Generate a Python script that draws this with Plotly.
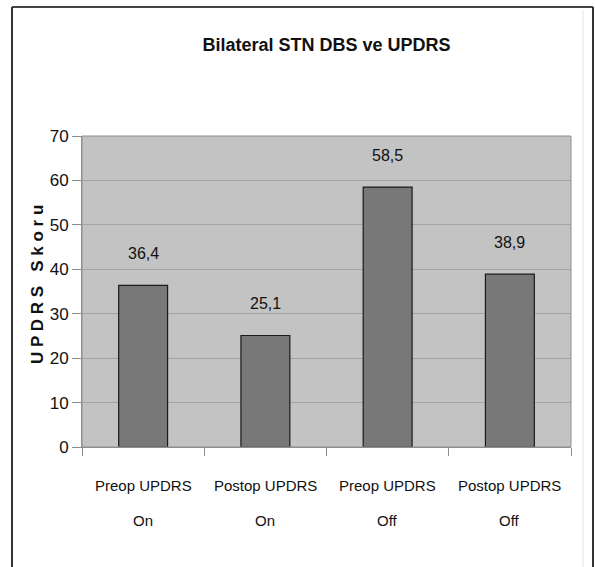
import plotly.graph_objects as go

# Mean UPDRS scores before/after bilateral STN DBS
phases = ["Preop UPDRS", "Postop UPDRS", "Preop UPDRS", "Postop UPDRS"]
states = ["On", "On", "Off", "Off"]
scores = [36.4, 25.1, 58.5, 38.9]
y_ticks = [0, 10, 20, 30, 40, 50, 60, 70]

categories = [f"{p} {s}" for p, s in zip(phases, states)]
labels = [f"{v:.1f}".replace(".", ",") for v in scores]

FONT = "Liberation Sans, Arial, sans-serif"
W, H = 595, 567
L, R, T, B = 82, 24, 136, 120
PW, PH = W - L - R, H - T - B


def px(x):
    return (x - L) / PW


def py(y):
    return (H - B - y) / PH


fig = go.Figure(
    go.Bar(
        x=categories,
        y=scores,
        width=0.4,
        marker=dict(color="#787878", line=dict(color="#1a1a1a", width=1.2)),
        hoverinfo="x+y",
    )
)

# value labels above each bar
for c, v, t in zip(categories, scores, labels):
    fig.add_annotation(
        x=c, y=v, xref="x", yref="y", text=t, showarrow=False,
        yanchor="bottom", yshift=21,
        font=dict(family=FONT, size=16, color="#111"),
    )

# two-line category labels under the axis
for c, p, s in zip(categories, phases, states):
    for text, shift in ((p, -38), (s, -73)):
        fig.add_annotation(
            x=c, y=0, xref="x", yref="paper", text=text, showarrow=False,
            yanchor="middle", yshift=shift,
            font=dict(family=FONT, size=15, color="#111"),
        )

# y-axis title
fig.add_annotation(
    x=px(37), y=py(285), xref="paper", yref="paper",
    text="<b>U P D R S   S k o r u</b>", textangle=-90, showarrow=False,
    xanchor="center", yanchor="middle",
    font=dict(family=FONT, size=17, color="#111"),
)

# outer frame
frame = dict(type="line", xref="paper", yref="paper", layer="above")
fig.add_shape(**frame, x0=px(12), x1=px(593), y0=py(7), y1=py(7),
              line=dict(color="#444", width=2))
fig.add_shape(**frame, x0=px(12), x1=px(12), y0=py(7), y1=py(567),
              line=dict(color="#333", width=2))
fig.add_shape(**frame, x0=px(593), x1=px(593), y0=py(7), y1=py(567),
              line=dict(color="#333", width=2))
fig.add_shape(**frame, x0=px(583), x1=px(583), y0=py(10), y1=py(567),
              line=dict(color="#e6e6e6", width=1))

# plot area border
fig.add_shape(type="rect", xref="paper", yref="paper", x0=0, x1=1, y0=0, y1=1,
              line=dict(color="#8e8e8e", width=1), layer="above")

fig.update_layout(
    width=W, height=H,
    margin=dict(l=L, r=R, t=T, b=B, autoexpand=False),
    paper_bgcolor="white",
    plot_bgcolor="#c3c3c3",
    showlegend=False,
    bargap=0.6,
    title=dict(
        text="<b>Bilateral STN DBS ve UPDRS</b>",
        x=0.5, xref="paper", xanchor="center",
        y=1 - 45 / H, yref="container", yanchor="middle",
        font=dict(family=FONT, size=18, color="#111"),
    ),
    xaxis=dict(
        type="category", categoryorder="array", categoryarray=categories,
        showticklabels=False, automargin=False,
        tickson="boundaries", ticks="outside", ticklen=8, tickcolor="#8e8e8e",
        showline=True, linecolor="#8e8e8e", linewidth=1,
        showgrid=False, zeroline=False,
    ),
    yaxis=dict(
        range=[0, 70], tickmode="array", tickvals=y_ticks,
        ticks="outside", ticklen=9, tickcolor="#8e8e8e",
        tickfont=dict(family=FONT, size=17, color="#111"),
        showgrid=True, gridcolor="#a4a4a4", gridwidth=1,
        showline=True, linecolor="#8e8e8e", zeroline=False,
        automargin=False,
    ),
)

fig.write_html("out.html")
